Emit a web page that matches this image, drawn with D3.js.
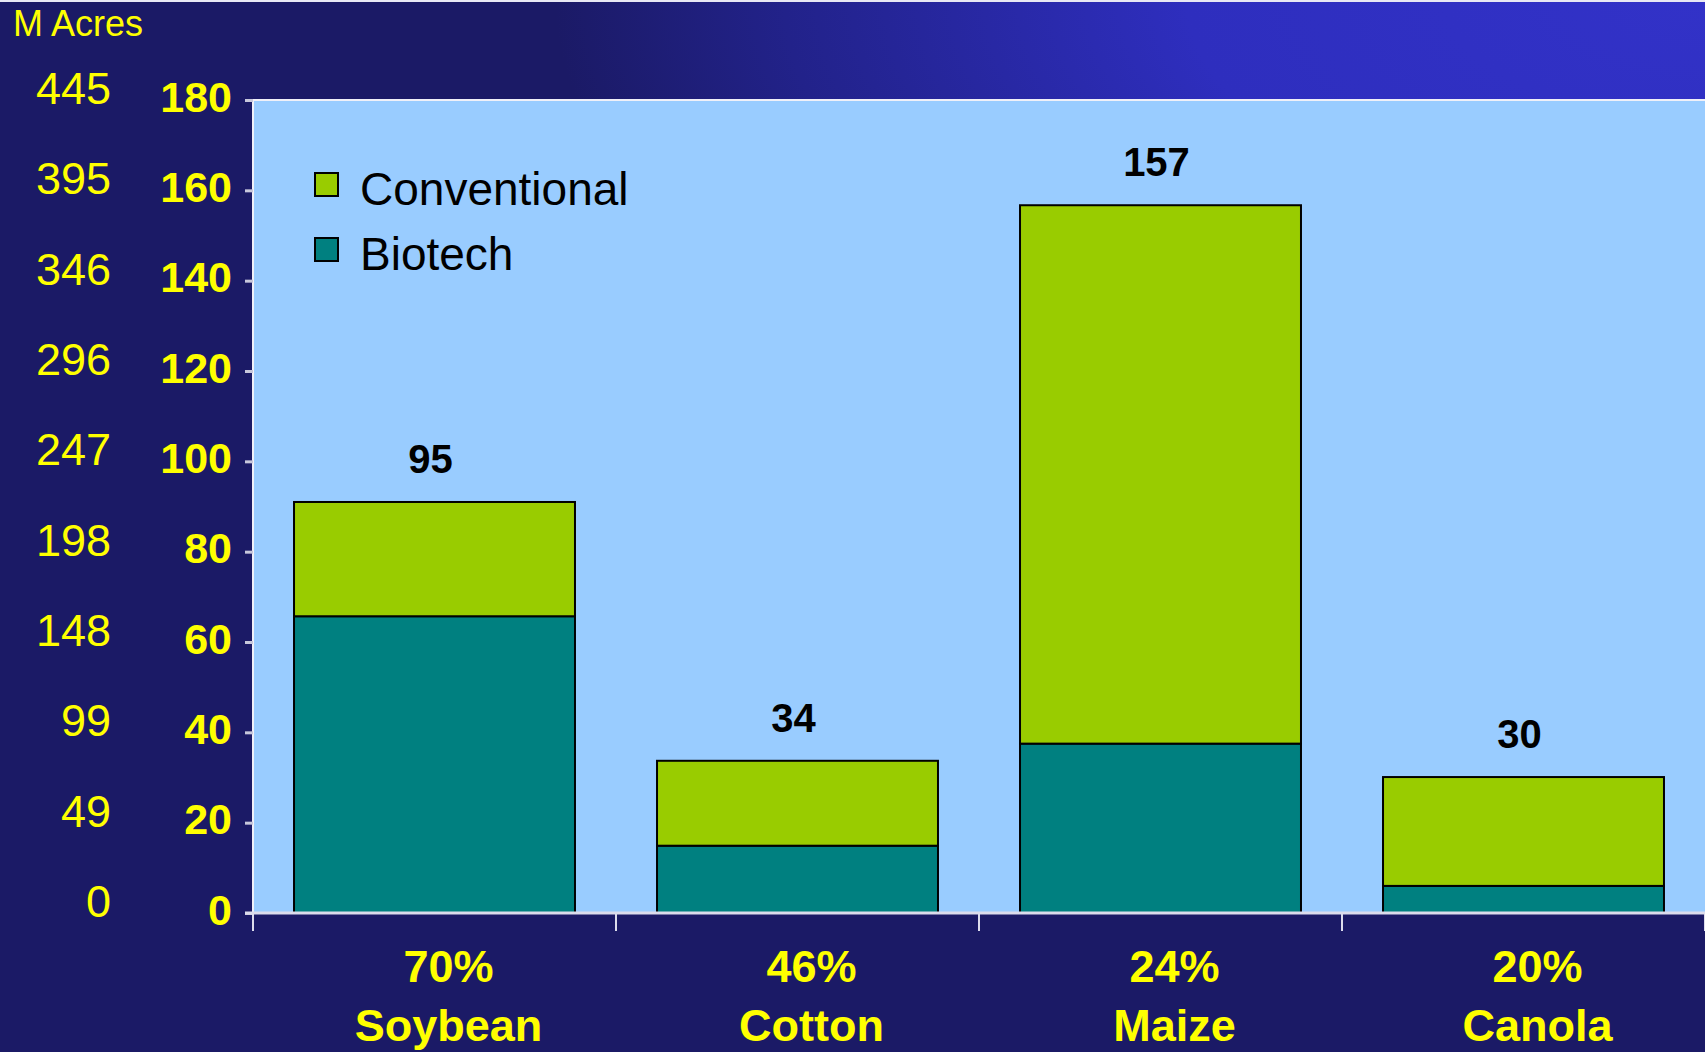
<!DOCTYPE html>
<html>
<head>
<meta charset="utf-8">
<script src="https://cdn.jsdelivr.net/npm/d3@7"></script>
<style>
  html, body { margin: 0; padding: 0; background: #1b1a66; }
  svg { display: block; }
  text { font-family: "Liberation Sans", Arial, sans-serif; }
</style>
</head>
<body>
<script>
// Biotech crop area by crop, million hectares (left axis in million acres)
var crops        = ["Soybean", "Cotton", "Maize", "Canola"];
var shares       = ["70%", "46%", "24%", "20%"];
var biotech      = [65.7, 14.9, 37.5, 6.0];
var conventional = [25.3, 18.8, 119.2, 24.1];
var total_labels = ["95", "34", "157", "30"];

var hectare_ticks = [0, 20, 40, 60, 80, 100, 120, 140, 160, 180];
var acre_labels   = ["0", "49", "99", "148", "198", "247", "296", "346", "395", "445"];

var series_names  = ["Conventional", "Biotech"];
var series_colors = ["#99cc00", "#008080"];

var width  = 1705;
var height = 1052;
var plot   = { left: 253, top: 100, right: 1705, bottom: 913 };

var svg = d3.select("body").append("svg")
    .attr("width", width)
    .attr("height", height);

// Background: dark navy with brighter blue glow at top right
var defs = svg.append("defs");
var grad = defs.append("radialGradient")
    .attr("id", "bg")
    .attr("gradientUnits", "userSpaceOnUse")
    .attr("cx", 0).attr("cy", 0).attr("r", 1)
    .attr("gradientTransform", "translate(1705,0) scale(1150,520)");
grad.append("stop").attr("offset", 0).attr("stop-color", "#3232c8");
grad.append("stop").attr("offset", 0.45).attr("stop-color", "#2e2ebe");
grad.append("stop").attr("offset", 0.8).attr("stop-color", "#22228a");
grad.append("stop").attr("offset", 1).attr("stop-color", "#1b1a66");

svg.append("rect").attr("width", width).attr("height", height).attr("fill", "url(#bg)");
svg.append("line")
    .attr("x1", 0).attr("x2", width).attr("y1", 1).attr("y2", 1)
    .attr("stroke", "#e8e8f4").attr("stroke-width", 2);

// Scales
var x = d3.scaleBand()
    .domain(crops)
    .range([plot.left, plot.right])
    .paddingInner(0.226)
    .paddingOuter(0.113);

var y = d3.scaleLinear()
    .domain([0, 180])
    .range([plot.bottom, plot.top]);

// Plot area
svg.append("rect")
    .attr("x", plot.left).attr("y", plot.top)
    .attr("width", plot.right - plot.left)
    .attr("height", plot.bottom - plot.top)
    .attr("fill", "#99ccff");
svg.append("path")
    .attr("d", "M" + plot.left + "," + plot.bottom + "V" + plot.top + "H" + plot.right)
    .attr("fill", "none")
    .attr("stroke", "#f0f0f8")
    .attr("stroke-width", 2);

// Stacked bars
var rows = crops.map(function (c, i) {
    return { crop: c, Biotech: biotech[i], Conventional: conventional[i] };
});
var stack = d3.stack().keys(["Biotech", "Conventional"])(rows);

svg.append("g").selectAll("g")
    .data(stack)
    .enter()
    .append("g")
    .attr("fill", function (d) {
        return series_colors[series_names.indexOf(d.key)];
    })
    .selectAll("rect")
    .data(function (d) { return d; })
    .enter()
    .append("rect")
    .attr("x", function (d) { return x(d.data.crop); })
    .attr("y", function (d) { return y(d[1]); })
    .attr("width", x.bandwidth())
    .attr("height", function (d) { return y(d[0]) - y(d[1]); })
    .attr("stroke", "#000")
    .attr("stroke-width", 2);

// Totals above bars
svg.append("g").selectAll("text")
    .data(crops)
    .enter()
    .append("text")
    .attr("x", function (d) { return x(d) + x.bandwidth() / 2 - 4; })
    .attr("y", function (d, i) { return y(biotech[i] + conventional[i]) - 29; })
    .attr("text-anchor", "middle")
    .attr("font-size", 40)
    .attr("font-weight", "bold")
    .attr("fill", "#000")
    .text(function (d, i) { return total_labels[i]; });

// Right y axis (million hectares)
var y_axis = svg.append("g")
    .attr("transform", "translate(" + plot.left + ",0)")
    .call(d3.axisLeft(y).tickValues(hectare_ticks).tickSize(8).tickPadding(13));
y_axis.select(".domain").remove();
y_axis.selectAll(".tick line").attr("stroke", "#c8c8dc").attr("stroke-width", 3);
y_axis.selectAll(".tick text")
    .attr("fill", "#ffff00")
    .attr("font-size", 43)
    .attr("font-weight", "bold")
    .attr("dy", "0.26em")
    .attr("font-family", "Liberation Sans, Arial, sans-serif");

// Left y axis (million acres)
var acre_axis = svg.append("g")
    .attr("transform", "translate(111,-11)")
    .call(d3.axisLeft(y).tickValues(hectare_ticks).tickSize(0).tickPadding(0)
        .tickFormat(function (d, i) { return acre_labels[i]; }));
acre_axis.select(".domain").remove();
acre_axis.selectAll(".tick text")
    .attr("fill", "#ffff00")
    .attr("font-size", 45)
    .attr("font-family", "Liberation Sans, Arial, sans-serif");

svg.append("text")
    .attr("x", 13).attr("y", 36)
    .attr("font-size", 36)
    .attr("fill", "#ffff00")
    .text("M Acres");

// X axis: baseline and ticks at category boundaries
var gap = (x.step() - x.bandwidth()) / 2;
var bounds = crops.map(function (d) { return x(d) - gap; }).concat([plot.right]);

svg.append("line")
    .attr("x1", plot.left - 8).attr("x2", plot.right)
    .attr("y1", plot.bottom).attr("y2", plot.bottom)
    .attr("stroke", "#dcdcec").attr("stroke-width", 3);
svg.append("g").selectAll("line")
    .data(bounds)
    .enter()
    .append("line")
    .attr("x1", function (d) { return d; })
    .attr("x2", function (d) { return d; })
    .attr("y1", plot.bottom)
    .attr("y2", plot.bottom + 18)
    .attr("stroke", "#dcdcec").attr("stroke-width", 2);

var xlab = svg.append("g").selectAll("g")
    .data(crops)
    .enter()
    .append("g")
    .attr("transform", function (d) {
        return "translate(" + (x(d) + x.bandwidth() / 2 + 14) + ",0)";
    });
xlab.append("text")
    .attr("y", 982)
    .attr("text-anchor", "middle")
    .attr("font-size", 45)
    .attr("font-weight", "bold")
    .attr("fill", "#ffff00")
    .text(function (d, i) { return shares[i]; });
xlab.append("text")
    .attr("y", 1041)
    .attr("text-anchor", "middle")
    .attr("font-size", 45)
    .attr("font-weight", "bold")
    .attr("fill", "#ffff00")
    .text(function (d) { return d; });

// Legend
var legend = svg.append("g").selectAll("g")
    .data(series_names)
    .enter()
    .append("g")
    .attr("transform", function (d, i) { return "translate(315," + (173 + i * 65) + ")"; });
legend.append("rect")
    .attr("width", 23).attr("height", 23)
    .attr("fill", function (d, i) { return series_colors[i]; })
    .attr("stroke", "#000").attr("stroke-width", 2);
legend.append("text")
    .attr("x", 45).attr("y", 11)
    .attr("dy", "0.46em")
    .attr("font-size", 46)
    .attr("fill", "#000")
    .text(function (d) { return d; });
</script>
</body>
</html>
